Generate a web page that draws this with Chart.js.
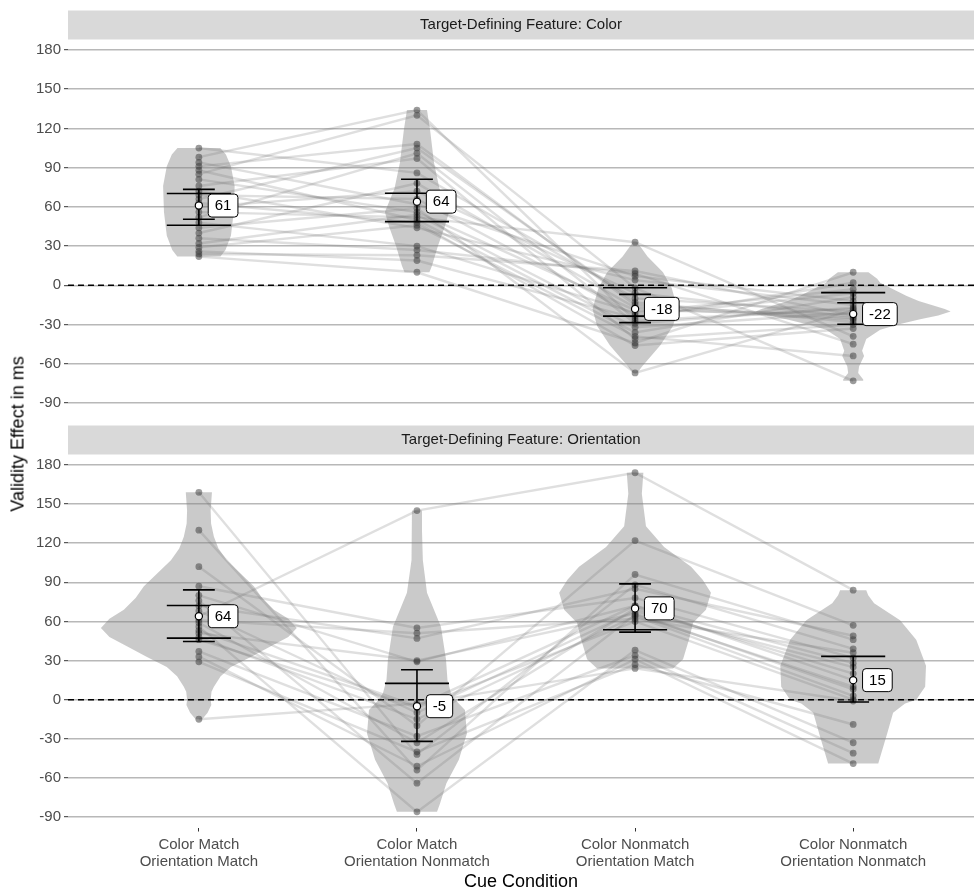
<!DOCTYPE html>
<html>
<head>
<meta charset="utf-8">
<script src="https://cdn.jsdelivr.net/npm/chart.js@4.4.0/dist/chart.umd.min.js"></script>
<style>
    html, body { margin: 0; padding: 0; background: #fff; }
    #wrap { position: relative; width: 974px; height: 891px; overflow: hidden; font-family: "Liberation Sans", Arial, sans-serif; }
    #chartTop { position: absolute; left: 0; top: 0; }
    #chartBottom { position: absolute; left: 0; top: 420px; }
    #yTitle { position: absolute; left: 18px; top: 434px; transform: translate(-50%, -50%) rotate(-90deg); font-size: 18px; white-space: nowrap; color: #000; }
</style>
</head>
<body>
<div id="wrap">
    <canvas id="chartTop" width="974" height="426"></canvas>
    <canvas id="chartBottom" width="974" height="471"></canvas>
    <div id="yTitle">Validity Effect in ms</div>
</div>
<script>
(function () {
    'use strict';

    var categories = [
        ['Color Match', 'Orientation Match'],
        ['Color Match', 'Orientation Nonmatch'],
        ['Color Nonmatch', 'Orientation Match'],
        ['Color Nonmatch', 'Orientation Nonmatch']
    ];
    var yTicks = [-90, -60, -30, 0, 30, 60, 90, 120, 150, 180];
    var panelTitles = ['Target-Defining Feature: Color', 'Target-Defining Feature: Orientation'];

    // one value per participant and cue condition (same index = same participant)
    var colorMM = [105, 98, 94, 91, 88, 85, 81, 76, 72, 69, 66, 63, 60, 56, 52, 48, 44, 40, 36, 32, 29, 26, 24, 22];
    var colorMN = [86, 134, 62, 108, 50, 130, 56, 97, 44, 66, 105, 48, 72, 52, 101, 30, 59, 78, 27, 54, 46, 19, 23, 10];
    var colorNM = [-10, -27, 7, -15, -36, -2, -19, -41, 4, -23, -13, -46, -6, 33, -29, -21, -67, -17, 9, -32, -39, -25, 11, -44];
    var colorNN = [-20, -18, -12, -25, -9, -73, -22, -30, -15, -6, -28, -33, -24, -39, -17, -3, -19, -26, -45, -21, -54, 2, -23, 10];

    var orientMM = [159, 130, 102, 87, 80, 76, 72, 68, 64, 61, 59, 56, 53, 51, 48, 37, 33, 29, 46, -15];
    var orientMN = [-42, -54, -20, 55, 29, -64, 47, -10, 145, 51, -33, -86, -5, 30, -15, -28, -51, -40, -6, -3];
    var orientNM = [88, 96, 122, 78, 72, 65, 85, 68, 174, 62, 70, 38, 72, 66, 64, 34, 31, 27, 60, 24];
    var orientNN = [39, 46, 57, 32, 28, 10, 49, 25, 84, 36, 20, -33, 15, 8, 3, -41, -49, -19, 0, -1];

    // means and intervals per condition
    var colorMeans = [61, 64, -18, -22];
    var colorCiLow = [50.5, 48.7, -28.5, -29.8];
    var colorCiHigh = [73.4, 81.1, -6.9, -13.3];
    var colorWideLow = [46, 48.7, -23.5, null];
    var colorWideHigh = [70.2, 70.4, -1.8, -5.6];

    var orientMeans = [64, -5, 70, 15];
    var orientCiLow = [44.6, -32, 51.8, -1.8];
    var orientCiHigh = [84.2, 23, 88.8, 33.2];
    var orientWideLow = [47.2, null, 53.6, null];
    var orientWideHigh = [72.2, 12.5, null, 33.2];

    // violin outlines: value levels and half width (in category units)
    var colorViolinY = [
        [22, 27, 38, 56, 76, 91, 100, 105],
        [10, 15, 30, 45, 56, 74, 94, 119, 134],
        [-67, -62, -46, -31, -18, -2, 10, 22, 33],
        [-73, -72, -67, -62, -54, -50, -41, -34, -30, -26, -23, -20, -18, -12, -8, 2, 5, 10]
    ];
    var colorViolinW = [
        [0.099, 0.122, 0.147, 0.160, 0.164, 0.147, 0.124, 0.098],
        [0.057, 0.069, 0.096, 0.128, 0.147, 0.103, 0.078, 0.060, 0.046],
        [0.010, 0.032, 0.115, 0.174, 0.195, 0.168, 0.128, 0.057, 0.010],
        [0.046, 0.046, 0.023, 0.027, 0.050, 0.041, 0.060, 0.124, 0.206, 0.307, 0.390, 0.447, 0.420, 0.300, 0.243, 0.124, 0.110, 0.070]
    ];
    var orientViolinY = [
        [-15, -10, -4, 0, 6, 10, 18, 25, 33, 41, 48, 55, 62, 69, 78, 87, 97, 107, 116, 125, 135, 145, 159],
        [-86, -80, -64, -46, -26, -8, 0, 5, 15, 31, 56, 82, 107, 130, 145],
        [24, 31, 46, 59, 69, 82, 92, 102, 117, 133, 158, 174],
        [-49, -26, -10, -3, 0, 10, 26, 46, 61, 74, 80, 84]
    ];
    var orientViolinW = [
        [0.015, 0.040, 0.057, 0.054, 0.058, 0.069, 0.100, 0.147, 0.240, 0.330, 0.410, 0.449, 0.410, 0.344, 0.290, 0.252, 0.190, 0.128, 0.090, 0.069, 0.056, 0.054, 0.060],
        [0.092, 0.105, 0.135, 0.192, 0.229, 0.220, 0.175, 0.156, 0.140, 0.133, 0.110, 0.046, 0.027, 0.023, 0.023],
        [0.174, 0.220, 0.247, 0.266, 0.325, 0.348, 0.310, 0.257, 0.133, 0.050, 0.031, 0.038],
        [0.115, 0.156, 0.183, 0.238, 0.289, 0.330, 0.334, 0.289, 0.215, 0.096, 0.069, 0.060]
    ];

    var X_MIN = 0.4, X_MAX = 4.554;
    var Y_MIN = -98, Y_MAX = 188;
    var CAP_NARROW = 0.073, CAP_WIDE = 0.147, LABEL_NUDGE = 0.043;
    var FONT = '"Liberation Sans", Arial, sans-serif';

    Chart.defaults.font.family = FONT;

    function violinData(center, levels, widths) {
        var pts = [];
        for (var i = 0; i < levels.length; i++) pts.push({ x: center + widths[i], y: levels[i] });
        for (var j = levels.length - 1; j >= 0; j--) pts.push({ x: center - widths[j], y: levels[j] });
        return pts;
    }

    function errorbarData(lo, hi, wLo, wHi) {
        var pts = [];
        function seg(x1, y1, x2, y2) {
            pts.push({ x: x1, y: y1 }, { x: x2, y: y2 }, { x: x2, y: null });
        }
        for (var i = 0; i < lo.length; i++) {
            var c = i + 1;
            var vals = [lo[i], hi[i], wLo[i], wHi[i]].filter(function (v) { return v != null; });
            seg(c, Math.min.apply(null, vals), c, Math.max.apply(null, vals));
            seg(c - CAP_NARROW, lo[i], c + CAP_NARROW, lo[i]);
            seg(c - CAP_NARROW, hi[i], c + CAP_NARROW, hi[i]);
            if (wLo[i] != null) seg(c - CAP_WIDE, wLo[i], c + CAP_WIDE, wLo[i]);
            if (wHi[i] != null) seg(c - CAP_WIDE, wHi[i], c + CAP_WIDE, wHi[i]);
        }
        return pts;
    }

    var stripPlugin = {
        id: 'strip',
        beforeDraw: function (chart, args, opts) {
            var a = chart.chartArea, ctx = chart.ctx;
            ctx.save();
            ctx.fillStyle = '#d9d9d9';
            ctx.fillRect(a.left, a.top - 29, a.right - a.left, 29);
            ctx.fillStyle = '#1a1a1a';
            ctx.font = '15px ' + FONT;
            ctx.textAlign = 'center';
            ctx.textBaseline = 'middle';
            ctx.fillText(opts.text, (a.left + a.right) / 2, a.top - 14.5);
            ctx.restore();
        }
    };

    var labelPlugin = {
        id: 'meanLabels',
        afterDatasetsDraw: function (chart, args, opts) {
            var ctx = chart.ctx, xs = chart.scales.x, ys = chart.scales.y;
            ctx.save();
            ctx.font = '15px ' + FONT;
            ctx.textBaseline = 'middle';
            ctx.textAlign = 'left';
            opts.values.forEach(function (v, i) {
                var px = xs.getPixelForValue(i + 1 + LABEL_NUDGE);
                var py = ys.getPixelForValue(v);
                var text = String(Math.round(v));
                var w = ctx.measureText(text).width + 13, h = 23;
                ctx.beginPath();
                ctx.roundRect(px, py - h / 2, w, h, 3.5);
                ctx.fillStyle = '#fff';
                ctx.fill();
                ctx.lineWidth = 1;
                ctx.strokeStyle = '#000';
                ctx.stroke();
                ctx.fillStyle = '#000';
                ctx.fillText(text, px + 6.5, py + 0.5);
            });
            ctx.restore();
        }
    };

    function buildPanel(canvasId, opt) {
        var datasets = [];
        var series = opt.series;

        opt.violinY.forEach(function (levels, i) {
            datasets.push({
                data: violinData(i + 1, levels, opt.violinW[i]),
                borderWidth: 0,
                borderColor: 'rgba(0,0,0,0)',
                backgroundColor: 'rgba(128,128,128,0.42)',
                fill: 'shape',
                pointRadius: 0,
                order: 60
            });
        });

        datasets.push({
            data: [{ x: X_MIN, y: 0 }, { x: X_MAX, y: 0 }],
            borderColor: '#000',
            borderWidth: 1.5,
            borderDash: [6, 4],
            pointRadius: 0,
            order: 55
        });

        for (var p = 0; p < series[0].length; p++) {
            datasets.push({
                data: series.map(function (s, c) { return { x: c + 1, y: s[p] }; }),
                borderColor: 'rgba(110,110,110,0.22)',
                borderWidth: 2.4,
                pointRadius: 0,
                order: 50
            });
        }

        var dots = [];
        series.forEach(function (s, c) {
            s.forEach(function (v) { dots.push({ x: c + 1, y: v }); });
        });
        datasets.push({
            data: dots,
            showLine: false,
            pointRadius: 3.4,
            pointBorderWidth: 0,
            pointBackgroundColor: 'rgba(55,55,55,0.5)',
            order: 40
        });

        datasets.push({
            data: errorbarData(opt.ciLow, opt.ciHigh, opt.wideLow, opt.wideHigh),
            borderColor: '#000',
            borderWidth: 1.6,
            pointRadius: 0,
            spanGaps: false,
            order: 30
        });

        datasets.push({
            data: opt.means.map(function (m, c) { return { x: c + 1, y: m }; }),
            showLine: false,
            pointRadius: 3.6,
            pointBorderWidth: 1.2,
            pointBorderColor: '#000',
            pointBackgroundColor: '#fff',
            order: 20
        });

        return new Chart(document.getElementById(canvasId), {
            type: 'line',
            data: { datasets: datasets },
            plugins: [stripPlugin, labelPlugin],
            options: {
                responsive: false,
                animation: false,
                layout: { padding: opt.padding, autoPadding: false },
                plugins: {
                    legend: { display: false },
                    tooltip: { enabled: false },
                    strip: { text: opt.title },
                    meanLabels: { values: opt.means }
                },
                elements: { line: { tension: 0 } },
                scales: {
                    x: {
                        type: 'linear',
                        min: X_MIN,
                        max: X_MAX,
                        display: opt.showX,
                        afterBuildTicks: function (s) { s.ticks = categories.map(function (c, i) { return { value: i + 1 }; }); },
                        afterFit: function (s) { if (opt.showX) s.height = 63.5; },
                        border: { display: false },
                        grid: { drawOnChartArea: false, drawTicks: true, tickLength: 4, tickColor: '#333', tickWidth: 1 },
                        ticks: {
                            padding: 5,
                            color: '#4d4d4d',
                            font: { size: 15, lineHeight: 1.11 },
                            maxRotation: 0,
                            autoSkip: false,
                            callback: function (v) { return categories[Math.round(v) - 1]; }
                        },
                        title: {
                            display: opt.showX,
                            text: 'Cue Condition',
                            color: '#000',
                            font: { size: 18, lineHeight: 1 },
                            padding: { top: 0, bottom: 0 }
                        }
                    },
                    y: {
                        min: Y_MIN,
                        max: Y_MAX,
                        afterBuildTicks: function (s) { s.ticks = yTicks.map(function (v) { return { value: v }; }); },
                        afterFit: function (s) { s.width = 68; },
                        border: { display: false },
                        grid: { color: '#b8b8b8', lineWidth: 1.4, tickLength: 4, tickColor: '#333', tickWidth: 1 },
                        ticks: { padding: 3, color: '#4d4d4d', font: { size: 15 } }
                    }
                }
            }
        });
    }

    buildPanel('chartTop', {
        title: panelTitles[0],
        series: [colorMM, colorMN, colorNM, colorNN],
        means: colorMeans,
        ciLow: colorCiLow, ciHigh: colorCiHigh,
        wideLow: colorWideLow, wideHigh: colorWideHigh,
        violinY: colorViolinY, violinW: colorViolinW,
        showX: false,
        padding: { top: 39.5, bottom: 12.5, left: 0, right: 0 }
    });

    buildPanel('chartBottom', {
        title: panelTitles[1],
        series: [orientMM, orientMN, orientNM, orientNN],
        means: orientMeans,
        ciLow: orientCiLow, ciHigh: orientCiHigh,
        wideLow: orientWideLow, wideHigh: orientWideHigh,
        violinY: orientViolinY, violinW: orientViolinW,
        showX: true,
        padding: { top: 34.5, bottom: 0, left: 0, right: 0 }
    });
})();
</script>
</body>
</html>
